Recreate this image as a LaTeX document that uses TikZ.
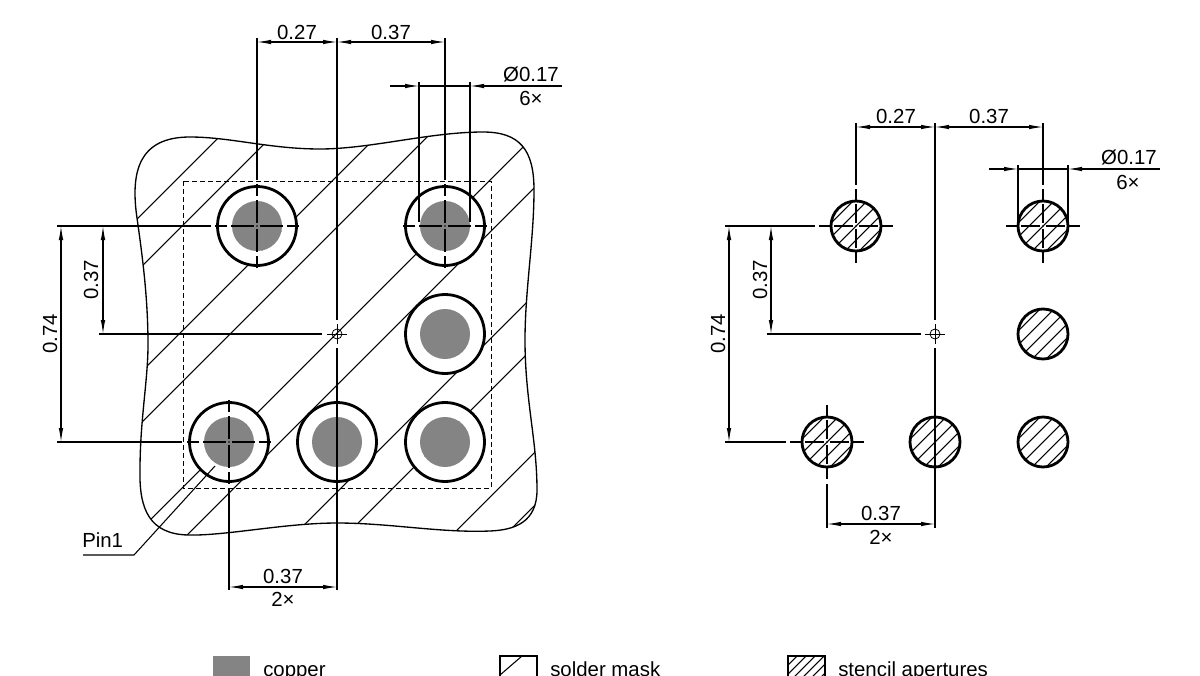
\documentclass[tikz,border=0pt]{standalone}
\usepackage{fontspec}
\setmainfont{Liberation Sans}
\usepackage{xcolor}
\usetikzlibrary{arrows.meta, calc}
\definecolor{copperGrey}{RGB}{132, 132, 132}
\tikzset{
	dimline/.style={line width=0.8pt, {Latex[length=10.5pt, width=3.4pt]}-{Latex[length=10.5pt, width=3.4pt]}},
	extline/.style={line width=0.8pt},
	hatchline/.style={line width=0.8pt},
	padring/.style={line width=2.1pt},
	dimtext/.style={font=\fontsize{15.3pt}{17pt}\selectfont, inner sep=0pt},
	boardoutline/.style={insert path={
		(137,218) .. controls (130,170) and (140,137) .. (190,137)
		.. controls (230,137) and (270,149) .. (320,149)
		.. controls (370,149) and (430,132) .. (483,132)
		.. controls (520,132) and (534,150) .. (534,190)
		.. controls (534,240) and (525,290) .. (525,340)
		.. controls (525,400) and (537,440) .. (537,490)
		.. controls (537,522) and (515,530) .. (490,531)
		.. controls (440,533) and (390,523) .. (337,523)
		.. controls (285,523) and (225,536) .. (188,535)
		.. controls (150,534) and (139,510) .. (140,470)
		.. controls (140,420) and (148,380) .. (148,345)
		.. controls (148,300) and (143,260) .. (137,218) -- cycle
	}}
}
% centre line pieces of a pad
\newcommand{\CentreMarks}[4]{
	\def\lpin{#1}
	\def\llong{#2}
	\def\lnear{#3}
	\def\lfar{#4}
	\draw[extline] ($(\lpin)+(3,0)$) -- ($(\lpin)+(\llong,0)$);
	\draw[extline] ($(\lpin)+(-3,0)$) -- ($(\lpin)+(-\llong,0)$);
	\draw[extline] ($(\lpin)+(\lnear,0)$) -- ($(\lpin)+(\lfar,0)$);
	\draw[extline] ($(\lpin)+(-\lnear,0)$) -- ($(\lpin)+(-\lfar,0)$);
	\draw[extline] ($(\lpin)+(0,3)$) -- ($(\lpin)+(0,\llong)$);
	\draw[extline] ($(\lpin)+(0,-3)$) -- ($(\lpin)+(0,-\llong)$);
	\draw[extline] ($(\lpin)+(0,\lnear)$) -- ($(\lpin)+(0,\lfar)$);
	\draw[extline] ($(\lpin)+(0,-\lnear)$) -- ($(\lpin)+(0,-\lfar)$);
	\fill (\lpin) circle (0.7pt);
}
% origin mark: small circle with a cross
\newcommand{\OriginMark}[1]{
	\draw[line width=0.6pt] (#1) circle (5);
	\draw[line width=0.6pt] ($(#1)+(-10,0)$) -- ($(#1)+(10,0)$);
	\draw[line width=0.6pt] ($(#1)+(0,-10)$) -- ($(#1)+(0,10)$);
}
% stencil aperture
\newcommand{\Aperture}[1]{
	\begin{scope}
		\clip (#1) circle (25);
		\foreach \d in {-35,-28,...,35} {
			\draw[hatchline] ($(#1)+(-40+\d,40+\d)$) -- ($(#1)+(40+\d,-40+\d)$);
		}
	\end{scope}
	\draw[padring] (#1) circle (25);
}

\begin{document}
\begin{tikzpicture}[x=0.75pt, y=-0.75pt, line cap=butt]
	\useasboundingbox (0,0) rectangle (1200,675);

	\coordinate (O) at (337,334);
	\coordinate (P1) at (257,226);
	\coordinate (P2) at (445,226);
	\coordinate (P3) at (445,334);
	\coordinate (P4) at (229,442);
	\coordinate (P5) at (337,442);
	\coordinate (P6) at (445,442);

	\begin{scope}
		\path[clip, boardoutline];
		\foreach \s in {356,408,513,564,670,722,829,881,987,1040} {
			\draw[hatchline] (\s-600,600) -- (\s,0);
		}
	\end{scope}
	\draw[line width=1pt, boardoutline];

	\foreach \p in {P1,P2,P3,P4,P5,P6} {
		\begin{scope}[even odd rule]
			\fill[white] (\p) circle (39.5) (\p) circle (25);
		\end{scope}
		\fill[copperGrey] (\p) circle (25);
		\draw[padring] (\p) circle (39.5);
	}
	\draw[line width=0.7pt, dash pattern=on 3.6pt off 2.4pt] (183,181) rectangle (491,488);

	\CentreMarks{P1}{26}{30}{42}
	\CentreMarks{P2}{26}{30}{42}
	\CentreMarks{P4}{26}{30}{42}
	\OriginMark{O}

	% left view, dimensions
	\draw[extline] (257,38) -- (257,180);
	\draw[extline] (337,38) -- (337,320);
	\draw[extline] (337,348) -- (337,590);
	\draw[extline] (445,38) -- (445,180);
	\draw[extline] (419,82) -- (419,222);
	\draw[extline] (470,82) -- (470,222);
	\draw[dimline] (257,42) -- (337,42);
	\draw[dimline] (337,42) -- (445,42);
	\node[dimtext] (lefta) at (297,32) {0.27};
	\node[dimtext] (leftb) at (391,32) {0.37};
	\draw[extline, -{Latex[length=10.5pt, width=3.4pt]}] (390,86) -- (419,86);
	\draw[extline] (419,86) -- (470,86);
	\draw[extline, -{Latex[length=10.5pt, width=3.4pt]}] (562,86) -- (470,86);
	\node[dimtext] (leftdia) at (531,74) {Ø0.17};
	\node[dimtext] (leftnum) at (531,98) {6×};

	\draw[extline] (57,226) -- (211,226);
	\draw[extline] (99,334) -- (322,334);
	\draw[extline] (57,442) -- (182,442);
	\draw[dimline] (61,226) -- (61,442);
	\draw[dimline] (103,226) -- (103,334);
	\node[dimtext, rotate=90] (lefty) at (50,334) {0.74};
	\node[dimtext, rotate=90] (leftz) at (91,280) {0.37};

	\draw[extline] (229,488) -- (229,590);
	\draw[dimline] (229,587) -- (337,587);
	\node[dimtext] (leftc) at (283,576) {0.37};
	\node[dimtext] (leftd) at (283,599) {2×};

	\node[dimtext, anchor=base west] (pinone) at (82,547) {Pin1};
	\draw[extline] (83,555) -- (134,555) -- (215,466);

	% right view
	\coordinate (Q) at (935,334);
	\coordinate (R1) at (856,226);
	\coordinate (R2) at (1043,226);
	\coordinate (R3) at (1043,334);
	\coordinate (R4) at (827,442);
	\coordinate (R5) at (935,442);
	\coordinate (R6) at (1043,442);

	\foreach \p in {R1,R2,R3,R4,R5,R6} {
		\Aperture{\p}
	}
	\CentreMarks{R1}{22}{26}{37}
	\CentreMarks{R2}{22}{26}{37}
	\CentreMarks{R4}{22}{26}{37}
	\OriginMark{Q}

	\draw[extline] (856,123) -- (856,185);
	\draw[extline] (935,123) -- (935,320);
	\draw[extline] (935,348) -- (935,528);
	\draw[extline] (1043,123) -- (1043,185);
	\draw[extline] (1018,165) -- (1018,226);
	\draw[extline] (1068,165) -- (1068,226);
	\draw[dimline] (856,127) -- (935,127);
	\draw[dimline] (935,127) -- (1043,127);
	\node[dimtext] (righta) at (896,116) {0.27};
	\node[dimtext] (rightb) at (989,116) {0.37};
	\draw[extline, -{Latex[length=10.5pt, width=3.4pt]}] (989,169) -- (1018,169);
	\draw[extline] (1018,169) -- (1068,169);
	\draw[extline, -{Latex[length=10.5pt, width=3.4pt]}] (1160,169) -- (1068,169);
	\node[dimtext] (rightdia) at (1129,157) {Ø0.17};
	\node[dimtext] (rightnum) at (1128,182) {6×};

	\draw[extline] (725,226) -- (815,226);
	\draw[extline] (767,334) -- (921,334);
	\draw[extline] (725,442) -- (786,442);
	\draw[dimline] (729,226) -- (729,442);
	\draw[dimline] (771,226) -- (771,334);
	\node[dimtext, rotate=90] (righty) at (718,334) {0.74};
	\node[dimtext, rotate=90] (rightz) at (760,280) {0.37};

	\draw[extline] (827,484) -- (827,528);
	\draw[dimline] (827,524) -- (935,524);
	\node[dimtext] (rightc) at (881,513) {0.37};
	\node[dimtext] (rightd) at (881,537) {2×};

	% legend
	\fill[copperGrey] (213,656) rectangle (250,690);
	\node[dimtext, anchor=base west] (lcopper) at (263,676) {copper};
	\draw[extline] (537,690) -- (537,656) -- (500,656) -- (500,690);
	\draw[extline] (500,675) -- (522,656);
	\node[dimtext, anchor=base west] (lmask) at (550,676) {solder mask};
	\begin{scope}
		\clip (788,656) rectangle (825,690);
		\foreach \s in {797,806,...,860} {
			\draw[hatchline] (\s,656) -- (\s-34,690);
		}
	\end{scope}
	\draw[extline] (825,690) -- (825,656) -- (788,656) -- (788,690);
	\node[dimtext, anchor=base west] (lstencil) at (838,676) {stencil apertures};
\end{tikzpicture}
\end{document}
